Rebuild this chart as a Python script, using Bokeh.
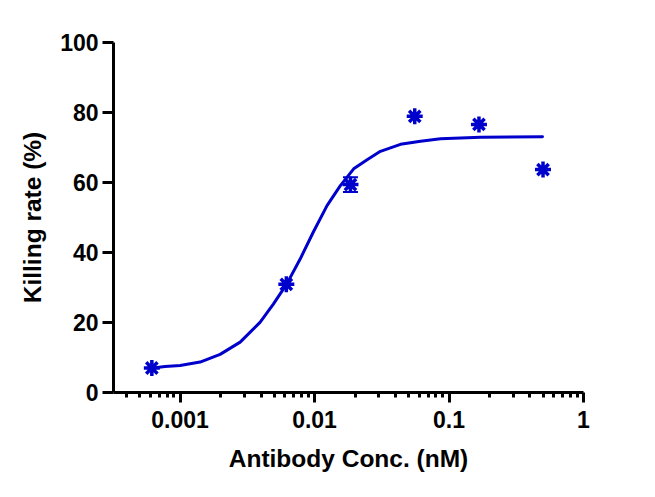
from bokeh.plotting import figure
from bokeh.models import Range1d, FixedTicker, Whisker, ColumnDataSource, TeeHead
from bokeh.embed import file_html
from bokeh.resources import INLINE

# ---- data ----
conc_nM = [0.000617, 0.00617, 0.0185, 0.0556, 0.167, 0.5]
killing = [7.0, 30.9, 59.4, 78.9, 76.6, 63.7]
killing_err = [0.0, 0.0, 2.1, 0.0, 0.0, 0.0]

# fitted curve (log10 conc, %)
curve_log_conc = [-3.201, -3.112, -3.000, -2.851, -2.702, -2.553, -2.404, -2.305,
                  -2.205, -2.106, -2.007, -1.907, -1.808, -1.709, -1.609, -1.510,
                  -1.361, -1.212, -1.063, -0.765, -0.305]
curve_killing = [7.0, 7.4, 7.7, 8.7, 10.9, 14.4, 20.1, 25.3,
                 31.1, 38.2, 46.0, 53.4, 59.1, 63.9, 66.5, 68.9,
                 70.9, 71.8, 72.5, 72.9, 73.1]

x_ticks = [0.001, 0.01, 0.1, 1]
x_tick_labels = ["0.001", "0.01", "0.1", "1"]
x_minor = [m * 10 ** e for e in (-4, -3, -2, -1) for m in range(2, 10)]
y_ticks = [0, 20, 40, 60, 80, 100]

x_label = "Antibody Conc. (nM)"
y_label = "Killing rate (%)"

BLUE = "#0000CC"
FONT = "Liberation Sans"

p = figure(width=639, height=481, x_axis_type="log",
           x_range=Range1d(3.2e-4, 1.0), y_range=Range1d(0, 100),
           output_backend="svg", toolbar_location=None,
           min_border_left=113, min_border_right=56,
           min_border_top=42, min_border_bottom=89)
p.outline_line_color = None
p.xgrid.visible = False
p.ygrid.visible = False
p.background_fill_color = "white"
p.border_fill_color = "white"

curve_x = [10 ** v for v in curve_log_conc]
p.line(curve_x, curve_killing, line_color=BLUE, line_width=3,
       line_join="round", line_cap="round")

err_x = [x for x, e in zip(conc_nM, killing_err) if e > 0]
err_lo = [y - e for y, e in zip(killing, killing_err) if e > 0]
err_hi = [y + e for y, e in zip(killing, killing_err) if e > 0]
src = ColumnDataSource(dict(x=err_x, lo=err_lo, hi=err_hi))
w = Whisker(source=src, base="x", lower="lo", upper="hi", dimension="height",
            line_color=BLUE, line_width=2,
            upper_head=TeeHead(size=15, line_color=BLUE, line_width=2),
            lower_head=TeeHead(size=15, line_color=BLUE, line_width=2))
p.add_layout(w)

p.scatter(conc_nM, killing, marker="asterisk", size=16, line_color=BLUE,
          line_width=3.5)

xa = p.xaxis[0]
xa.ticker = FixedTicker(ticks=x_ticks, minor_ticks=x_minor)
xa.major_label_overrides = {t: l for t, l in zip(x_ticks, x_tick_labels)}
ya = p.yaxis[0]
ya.ticker = FixedTicker(ticks=y_ticks)

for ax in (xa, ya):
    ax.axis_line_width = 3
    ax.axis_line_color = "black"
    ax.major_tick_line_width = 3
    ax.major_tick_line_color = "black"
    ax.major_tick_in = 0
    ax.minor_tick_in = 0
    ax.major_label_text_font = FONT
    ax.major_label_text_font_style = "bold"
    ax.major_label_text_font_size = "23px"
    ax.major_label_text_color = "black"
    ax.axis_label_text_font = FONT
    ax.axis_label_text_font_style = "bold"
    ax.axis_label_text_font_size = "24.5px"
    ax.axis_label_text_color = "black"

xa.major_tick_out = 10
xa.minor_tick_out = 5
xa.minor_tick_line_width = 3
xa.minor_tick_line_color = "black"
xa.major_label_standoff = 8
xa.axis_label = x_label
xa.axis_label_standoff = 14

ya.major_tick_out = 11
ya.minor_tick_line_color = None
ya.major_label_standoff = 4
ya.axis_label = y_label
ya.axis_label_standoff = 11

open("out.html", "w").write(file_html(p, INLINE))
